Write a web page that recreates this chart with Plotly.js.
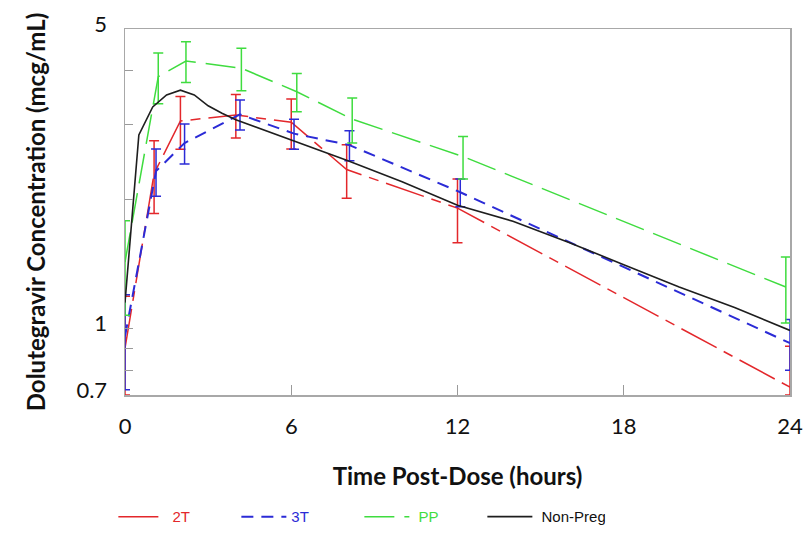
<!DOCTYPE html>
<html>
<head>
<meta charset="utf-8">
<script src="https://cdn.plot.ly/plotly-3.0.1.min.js"></script>
<style>html,body{margin:0;padding:0;background:#fff;}#chart{width:809px;height:535px;}</style>
</head>
<body>
<div id="chart"></div>
<script>
// ---- Data ----
const seriesNames = ["2T", "3T", "PP", "Non-Preg"];

const time2T = [0, 1.05, 2.0, 4.0, 6.0, 8.0, 12.0, 24];
const conc2T = [0.90, 2.30, 3.05, 3.15, 3.03, 2.35, 1.91, 0.73];
const sd2T   = [0.29, 0.445, 0.43, 0.365, 0.405, 0.335, 0.325, 0.18];

const time3T = [0, 1.12, 2.15, 4.15, 6.1, 8.1, 12.1, 24];
const conc3T = [0.96, 2.33, 2.71, 3.16, 2.85, 2.68, 2.08, 0.925];
const sd3T   = [0.24, 0.295, 0.29, 0.255, 0.23, 0.215, 0.155, 0.125];

const timePP = [0, 1.2, 2.2, 4.2, 6.2, 8.2, 12.2, 23.85];
const concPP = [1.43, 3.87, 4.21, 4.05, 3.57, 3.08, 2.52, 1.25];
const sdPP   = [0.355, 0.525, 0.46, 0.46, 0.365, 0.37, 0.285, 0.22];

const timeNP = [0, 0.5, 1, 1.5, 2, 2.5, 3, 3.5, 4, 6, 8, 10, 12, 14, 16, 18, 20, 22, 24];
const concNP = [1.15, 2.83, 3.29, 3.51, 3.60, 3.51, 3.31, 3.18, 3.07, 2.75, 2.47, 2.20, 1.94, 1.78, 1.59, 1.41, 1.25, 1.12, 0.99];

const xTickVals = [0, 6, 12, 18, 24];
const yTickVals = [0.7, 1, 5];
const yTickText = ["0.7", "1", "5"];
const yMinorVals = [0.8, 0.9, 2, 3, 4];
const yMin = 0.7, yMax = 5;

// ---- Styles ----
const cRed = "#e3272b", cBlue = "#2b2bd6", cGreen = "#3fdc3f", cBlack = "#1e1e1e";
const nb = "\u00a0";

function errTrace(x, y, sd, name, color, dash, width) {
  // lower whisker stops at the bottom of the axis range (the original clips it there)
  const minus = y.map((v, i) => Math.min(sd[i], v - yMin));
  return {
    x: x, y: y, type: "scatter", mode: "lines", name: name, cliponaxis: false,
    line: {color: color, width: width, dash: dash},
    error_y: {type: "data", symmetric: false, array: sd, arrayminus: minus, visible: true,
              color: color, thickness: 1.5, width: 5}
  };
}

const traces = [
  errTrace(time2T, conc2T, sd2T, '<span style="color:' + cRed + '">' + nb + seriesNames[0] + '</span>', cRed, "40px,8px,10px,8px", 1.5),
  errTrace(time3T, conc3T, sd3T, '<span style="color:' + cBlue + '">' + seriesNames[1] + '</span>', cBlue, "12px,8px", 2),
  errTrace(timePP, concPP, sdPP, '<span style="color:' + cGreen + '">' + nb + seriesNames[2] + '</span>', cGreen, "30px,10px", 1.5),
  {x: timeNP, y: concNP, type: "scatter", mode: "lines", name: nb + seriesNames[3],
   line: {color: cBlack, width: 1.6}}
];

const fam = "Lato, 'Open Sans', sans-serif";

const layout = {
  width: 809, height: 535,
  margin: {l: 125, r: 19, t: 29, b: 140, autoexpand: false},
  paper_bgcolor: "#fff", plot_bgcolor: "#fff",
  showlegend: true,
  xaxis: {
    range: [0, 24], tickmode: "array", tickvals: xTickVals,
    ticks: "inside", ticklen: 10, tickwidth: 1, tickcolor: "#9a9a9a",
    showline: true, linecolor: "#a8a8a8", linewidth: 1.5, mirror: true,
    showgrid: false, zeroline: false,
    tickfont: {family: fam, size: 22, color: "#111"}, ticklabelstandoff: 11,
    title: {text: "<b>Time Post-Dose (hours)</b>", font: {family: fam, size: 24, color: "#111"}, standoff: 30}
  },
  yaxis: {
    type: "log", range: [Math.log10(yMin), Math.log10(yMax)],
    tickmode: "array", tickvals: yTickVals, ticktext: yTickText,
    ticks: "inside", ticklen: 8, tickwidth: 1, tickcolor: "#9a9a9a",
    minor: {tickmode: "array", tickvals: yMinorVals, ticks: "inside", ticklen: 8, tickwidth: 1, tickcolor: "#9a9a9a", showgrid: false},
    showline: true, linecolor: "#a8a8a8", linewidth: 1.5, mirror: true,
    showgrid: false, zeroline: false,
    tickfont: {family: fam, size: 22, color: "#111"}, ticklabelstandoff: 12, ticklabelshift: -5,
    title: {text: "<b>Dolutegravir Concentration (mcg/mL)</b>", font: {family: fam, size: 24, color: "#111"}, standoff: 24}
  },
  legend: {
    orientation: "h", x: -0.0175, xanchor: "left", y: -0.333, yanchor: "middle",
    entrywidth: 63, entrywidthmode: "pixels", itemwidth: 45,
    font: {family: "'Liberation Sans Narrow', 'Liberation Sans', Arial, sans-serif", size: 15, color: "#111"},
    bgcolor: "rgba(0,0,0,0)", traceorder: "normal"
  }
};

Plotly.newPlot("chart", traces, layout, {displayModeBar: false, staticPlot: true});
</script>
</body>
</html>
